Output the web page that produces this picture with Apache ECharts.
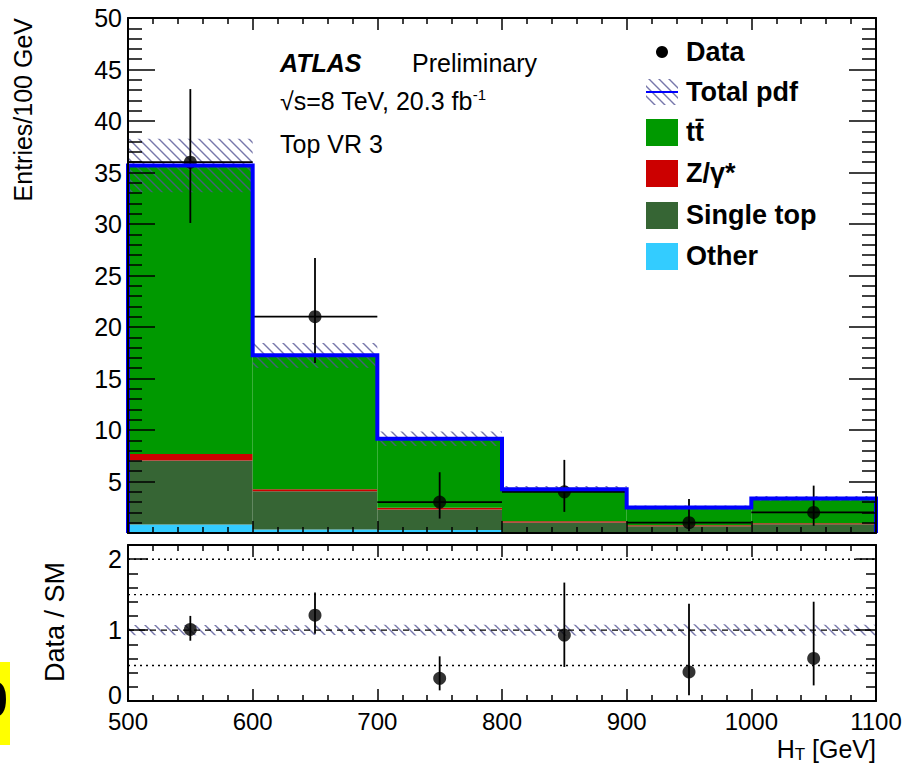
<!DOCTYPE html>
<html><head><meta charset="utf-8">
<script src="https://cdn.jsdelivr.net/npm/echarts@6/dist/echarts.min.js"></script>
<style>html,body{margin:0;padding:0;background:#fff}#c{width:905px;height:764px}</style>
</head><body><div id="c"></div>
<script>
// ---------- data ----------
const binEdges   = [500, 600, 700, 800, 900, 1000, 1100];
const ttbar      = [28.0, 13.0, 6.7, 3.1, 1.72, 2.4];
const zgamma     = [0.65, 0.2, 0.17, 0.12, 0.1, 0.1];
const singleTop  = [6.2, 3.7, 2.0, 0.95, 0.6, 0.8];
const other      = [0.83, 0.35, 0.28, 0.07, 0.05, 0.05];
const totalErr   = [2.6, 1.2, 0.7, 0.32, 0.2, 0.25];
const dataVals   = [36, 21, 3, 4, 1, 2];
const dataErrUp  = [7.1, 5.7, 2.9, 3.1, 2.3, 2.6];
const dataErrDn  = [5.9, 4.5, 1.6, 1.95, 0.83, 1.3];
const ratioVals  = [1.01, 1.21, 0.32, 0.93, 0.41, 0.6];
const ratioErrUp = [0.19, 0.32, 0.31, 0.74, 0.96, 0.8];
const ratioErrDn = [0.16, 0.26, 0.17, 0.45, 0.33, 0.38];
const ratioDotted = [0.5, 1.5, 2.0];
const ratioDashed = [1.0];
const mainYTicks = {min: 0, max: 50, interval: 5};
const ratioYTicks = {min: 0, max: 2.2, interval: 1};

// ---------- helpers ----------
const FONT = '"Liberation Sans", Arial, Helvetica, sans-serif';
const nb = dataVals.length;
const centers = []; for (let i = 0; i < nb; i++) centers.push((binEdges[i] + binEdges[i+1]) / 2);

function makeHatch() {
  const c = document.createElement('canvas'); c.width = 10; c.height = 10;
  const g = c.getContext('2d');
  g.strokeStyle = 'rgba(85,85,150,0.8)'; g.lineWidth = 1.4;
  g.beginPath();
  g.moveTo(-2, -2); g.lineTo(12, 12);
  g.moveTo(-2, 8); g.lineTo(2, 12);
  g.moveTo(8, -2); g.lineTo(12, 2);
  g.stroke();
  return c;
}
const hatch = {image: makeHatch(), repeat: 'repeat'};
const mctx = document.createElement('canvas').getContext('2d');
function textW(t, font) { mctx.font = font; return mctx.measureText(t).width; }

// stacked components bottom-up
const comps = [
  {name: 'Other', vals: other, color: '#33ccff'},
  {name: 'Single top', vals: singleTop, color: '#366534'},
  {name: 'Z/γ*', vals: zgamma, color: '#cc0000'},
  {name: 'tt̄', vals: ttbar, color: '#009900'}
];
const cum = new Array(nb).fill(0);
const stackSeries = comps.map(c => {
  const d = [];
  for (let i = 0; i < nb; i++) { d.push([binEdges[i], binEdges[i+1], cum[i], cum[i] + c.vals[i]]); cum[i] += c.vals[i]; }
  return {
    type: 'custom', name: c.name, xAxisIndex: 0, yAxisIndex: 0, data: d,
    encode: {x: [0, 1], y: [2, 3]},
    renderItem: (p, api) => {
      const a = api.coord([api.value(0), api.value(3)]);
      const b = api.coord([api.value(1), api.value(2)]);
      return {type: 'rect', shape: {x: a[0], y: a[1], width: b[0] - a[0], height: b[1] - a[1]}, style: {fill: c.color}};
    }
  };
});
const total = cum.slice();

function bandRect(p, api) {
  const a = api.coord([api.value(0), api.value(3)]);
  const b = api.coord([api.value(1), api.value(2)]);
  return {type: 'rect', shape: {x: a[0], y: a[1], width: b[0] - a[0], height: b[1] - a[1]}, style: {fill: hatch}};
}
const bandData = [], ratioBandData = [];
for (let i = 0; i < nb; i++) {
  bandData.push([binEdges[i], binEdges[i+1], total[i] - totalErr[i], total[i] + totalErr[i]]);
  const r = totalErr[i] / total[i];
  ratioBandData.push([binEdges[i], binEdges[i+1], 1 - r, 1 + r]);
}

const steps = [[binEdges[0], 0]];
for (let i = 0; i < nb; i++) { steps.push([binEdges[i], total[i]]); steps.push([binEdges[i+1], total[i]]); }
steps.push([binEdges[nb], 0]);

const dataErr = [], ratioErr = [];
for (let i = 0; i < nb; i++) {
  dataErr.push([centers[i], dataVals[i], dataVals[i] - dataErrDn[i], dataVals[i] + dataErrUp[i], binEdges[i], binEdges[i+1]]);
  ratioErr.push([centers[i], ratioVals[i], ratioVals[i] - ratioErrDn[i], ratioVals[i] + ratioErrUp[i], binEdges[i], binEdges[i+1]]);
}
function errItem(withX) {
  return (p, api) => {
    const lo = api.coord([api.value(0), api.value(2)]);
    const hi = api.coord([api.value(0), api.value(3)]);
    const ch = [{type: 'line', shape: {x1: lo[0], y1: lo[1], x2: hi[0], y2: hi[1]}, style: {stroke: '#000', lineWidth: 1.8}}];
    if (withX) {
      const l = api.coord([api.value(4), api.value(1)]);
      const r = api.coord([api.value(5), api.value(1)]);
      ch.push({type: 'line', shape: {x1: l[0], y1: l[1], x2: r[0], y2: r[1]}, style: {stroke: '#000', lineWidth: 1.8}});
    }
    return {type: 'group', children: ch};
  };
}
function guideItem(dash) {
  return (p, api) => {
    const a = api.coord([binEdges[0], api.value(0)]);
    const b = api.coord([binEdges[nb], api.value(0)]);
    return {type: 'line', shape: {x1: a[0], y1: a[1], x2: b[0], y2: b[1]}, style: {stroke: '#000', lineWidth: 1.4, lineDash: dash}};
  };
}

function xAx(grid, pos, labels) {
  return {
    gridIndex: grid, type: 'value', position: pos, min: binEdges[0], max: binEdges[nb], interval: 100, z: 10,
    axisLine: {onZero: false, lineStyle: {color: '#000', width: 2}},
    axisTick: {inside: true, length: 12, lineStyle: {color: '#000', width: 1.5}},
    minorTick: {show: true, splitNumber: 5, length: 6, lineStyle: {color: '#000', width: 1.5}},
    axisLabel: {show: labels, fontSize: 24, color: '#000', fontFamily: FONT, margin: 8, showMinLabel: true, showMaxLabel: true,
      formatter: v => String(v)},
    splitLine: {show: false}, minorSplitLine: {show: false}
  };
}
function yAx(grid, pos, t, labels, major, minor, fmt, rich) {
  return {
    gridIndex: grid, type: 'value', position: pos, min: t.min, max: t.max, interval: t.interval, z: 10,
    axisLine: {onZero: false, lineStyle: {color: '#000', width: 2}},
    axisTick: {inside: true, length: major, lineStyle: {color: '#000', width: 1.5}},
    minorTick: {show: true, splitNumber: 5, length: minor, lineStyle: {color: '#000', width: 1.5}},
    axisLabel: {show: labels, fontSize: 25, color: '#000', fontFamily: FONT, margin: 6, formatter: fmt, rich: rich},
    splitLine: {show: false}, minorSplitLine: {show: false}
  };
}

// legend graphics
const legRows = [52, 92, 132, 173, 215, 256];
const legNames = ['Data', 'Total pdf', 'tt̄', 'Z/γ*', 'Single top', 'Other'];
const legendG = [];
legendG.push({type: 'circle', shape: {cx: 662, cy: legRows[0], r: 6}, style: {fill: '#000'}});
legendG.push({type: 'rect', shape: {x: 646, y: legRows[1] - 13, width: 32, height: 26}, style: {fill: hatch}});
legendG.push({type: 'line', shape: {x1: 646, y1: legRows[1], x2: 678, y2: legRows[1]}, style: {stroke: '#0000ff', lineWidth: 2}});
const legColors = [null, null, '#009900', '#cc0000', '#366534', '#33ccff'];
for (let i = 2; i < 6; i++) legendG.push({type: 'rect', shape: {x: 646, y: legRows[i] - 13, width: 32, height: 27}, style: {fill: legColors[i]}});
for (let i = 0; i < 6; i++) legendG.push({type: 'text', x: 686, y: legRows[i], style: {text: legNames[i], font: 'bold 27px ' + FONT, fill: '#000', verticalAlign: 'middle', align: 'left'}});

// x-axis title pieces: H, subscript T, [GeV] (right-aligned at plot edge)
const TF = '25px ' + FONT, SF = '17px ' + FONT;
const xTitleRight = 876, xTitleY = 749;
const wGeV = textW(' [GeV]', TF), wT = textW('T', SF);
const xTitle = [
  {type: 'text', x: xTitleRight, y: xTitleY, style: {text: ' [GeV]', font: TF, fill: '#000', align: 'right', verticalAlign: 'middle'}},
  {type: 'text', x: xTitleRight - wGeV, y: xTitleY + 5, style: {text: 'T', font: SF, fill: '#000', align: 'right', verticalAlign: 'middle'}},
  {type: 'text', x: xTitleRight - wGeV - wT, y: xTitleY, style: {text: 'H', font: TF, fill: '#000', align: 'right', verticalAlign: 'middle'}}
];

const option = {
  animation: false,
  backgroundColor: '#fff',
  grid: [
    {left: 128, top: 18, width: 748, height: 515},
    {left: 128, top: 545, width: 748, height: 156}
  ],
  xAxis: [xAx(0, 'bottom', false), xAx(0, 'top', false), xAx(1, 'bottom', true), xAx(1, 'top', false)],
  yAxis: [
    yAx(0, 'left', mainYTicks, true, 27, 14, v => v === 0 ? '' : String(v)),
    yAx(0, 'right', mainYTicks, false, 27, 14),
    yAx(1, 'left', ratioYTicks, true, 20, 10,
      v => (Math.abs(v - Math.round(v)) < 1e-6 ? (Math.round(v) === 0 ? '{z|0}' : String(Math.round(v))) : ''),
      {z: {fontSize: 25, fontFamily: FONT, color: '#000', lineHeight: 20, padding: [0, 0, 12, 0]}}),
    yAx(1, 'right', ratioYTicks, false, 20, 10)
  ],
  series: [
    ...stackSeries,
    {type: 'custom', name: 'Total pdf band', xAxisIndex: 0, yAxisIndex: 0, data: bandData, encode: {x: [0, 1], y: [2, 3]}, renderItem: bandRect},
    {type: 'line', name: 'Total pdf', xAxisIndex: 0, yAxisIndex: 0, data: steps, symbol: 'none', clip: false,
     lineStyle: {color: '#0000ff', width: 4, join: 'miter'}},
    {type: 'custom', name: 'Data err', xAxisIndex: 0, yAxisIndex: 0, data: dataErr, encode: {x: 0, y: [2, 3]}, renderItem: errItem(true)},
    {type: 'scatter', name: 'Data', xAxisIndex: 0, yAxisIndex: 0, data: centers.map((c, i) => [c, dataVals[i]]),
     symbol: 'circle', symbolSize: 13, itemStyle: {color: '#000'}},
    // ratio panel
    {type: 'custom', name: 'dotted', xAxisIndex: 2, yAxisIndex: 2, data: ratioDotted.map(v => [v]), encode: {y: 0}, renderItem: guideItem([2, 4])},
    {type: 'custom', name: 'ratio band', xAxisIndex: 2, yAxisIndex: 2, data: ratioBandData, encode: {x: [0, 1], y: [2, 3]}, renderItem: bandRect},
    {type: 'custom', name: 'dashed', xAxisIndex: 2, yAxisIndex: 2, data: ratioDashed.map(v => [v]), encode: {y: 0}, renderItem: guideItem([6, 5])},
    {type: 'custom', name: 'Ratio err', xAxisIndex: 2, yAxisIndex: 2, data: ratioErr, encode: {x: 0, y: [2, 3]}, renderItem: errItem(false)},
    {type: 'scatter', name: 'Ratio', xAxisIndex: 2, yAxisIndex: 2, data: centers.map((c, i) => [c, ratioVals[i]]),
     symbol: 'circle', symbolSize: 13, itemStyle: {color: '#000'}}
  ],
  graphic: [
    {type: 'text', x: 23, y: 18, rotation: Math.PI / 2, style: {text: 'Entries/100 GeV', font: '25px ' + FONT, fill: '#000', align: 'right', verticalAlign: 'middle'}},
    {type: 'text', x: 55, y: 622, rotation: Math.PI / 2, style: {text: 'Data / SM', font: '27px ' + FONT, fill: '#000', align: 'center', verticalAlign: 'middle'}},
    ...xTitle,
    {type: 'text', x: 280, y: 63, style: {text: 'ATLAS', font: 'italic bold 25px ' + FONT, fill: '#000', verticalAlign: 'middle'}},
    {type: 'text', x: 412, y: 63, style: {text: 'Preliminary', font: '25px ' + FONT, fill: '#000', verticalAlign: 'middle'}},
    {type: 'text', x: 280, y: 101, style: {text: '√s=8 TeV, 20.3 fb{sup|-1}', font: '25px ' + FONT, fill: '#000', verticalAlign: 'middle',
      rich: {sup: {fontSize: 15, fontFamily: FONT, fill: '#000', padding: [0, 0, 14, 0]}}}},
    {type: 'text', x: 280, y: 144, style: {text: 'Top VR 3', font: '25px ' + FONT, fill: '#000', verticalAlign: 'middle'}},
    ...legendG,
    {type: 'rect', shape: {x: 0, y: 662, width: 10, height: 83}, style: {fill: '#ffff00'}},
    {type: 'text', x: 8, y: 700, style: {text: '0', font: 'bold 50px ' + FONT, fill: '#000', align: 'right', verticalAlign: 'middle'}}
  ]
};
const chart = echarts.init(document.getElementById('c'), null, {renderer: 'svg'});
chart.setOption(option);
</script></body></html>
